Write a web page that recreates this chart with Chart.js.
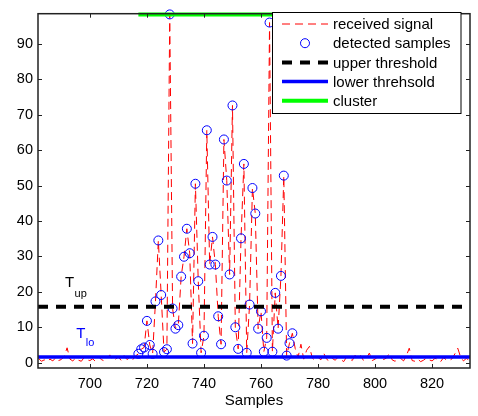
<!DOCTYPE html>
<html>
<head>
<meta charset="utf-8">
<script src="https://cdn.jsdelivr.net/npm/chart.js@4.4.0/dist/chart.umd.min.js"></script>
<style>
  html, body { margin: 0; padding: 0; background: #fff; }
</style>
</head>
<body>
<canvas id="chart" width="478" height="416"></canvas>
<script>
// samples 682..716 (noise before the burst)
const firstSample = 682;
const leftNoise = [1.2, 0.4, 0.8, 0.3, 1.0, 0.5, 1.4, 0.6, 0.9, 1.8,
                   4.2, 1.0, 0.5, 1.3, 0.7, 0.4, 1.5, 0.8, 0.6, 1.1,
                   0.3, 1.7, 0.9, 0.5, 1.2, 2.2, 0.7, 1.0, 1.6, 0.6,
                   2.0, 0.9, 1.4, 0.8, 1.9];
// samples 717..771, the detected ones
const clusterStart = 717;
const detected = [2.5, 3.8, 4.3, 11.8, 5.0, 2.5, 17.3, 34.5, 19.1, 3.0,
                  3.8, 98.3, 15.3, 9.6, 10.6, 24.3, 29.9, 37.8, 30.9, 5.4,
                  50.5, 23.0, 2.8, 7.6, 65.6, 27.7, 35.5, 27.7, 13.1, 5.2,
                  63.0, 51.4, 24.9, 72.6, 10.0, 3.9, 35.1, 56.1, 2.8, 16.4,
                  49.3, 42.1, 9.6, 14.5, 3.1, 7.0, 96.0, 3.1, 19.7, 9.6,
                  24.5, 52.8, 2.0, 5.5, 8.3];
// samples 772..833
const rightNoise = [4.0, 1.5, 5.2, 1.0, 3.5, 4.6, 1.3, 0.6, 1.5, 0.8,
                    2.7, 1.0, 0.4, 1.2, 0.7, 1.5, 0.9, 0.3, 1.6, 1.1,
                    0.6, 2.1, 1.2, 2.0, 0.5, 1.3, 2.7, 0.6, 1.0, 1.7,
                    1.6, 0.9, 1.3, 2.7, 0.8, 0.4, 0.9, 1.2, 0.5, 2.0,
                    4.1, 0.6, 0.4, 1.0, 0.3, 0.7, 1.3, 0.8, 0.5, 1.2,
                    1.0, 0.3, 1.4, 0.8, 0.6, 1.1, 2.5, 4.1, 1.6, 0.5,
                    1.2, 0.7];

const upperThreshold = 15.8;
const lowerThreshold = 1.6;
const clusterSpan = [717, 770];
const clusterLevel = 98.3;

const xRange = [681.8, 833.3];
const yRange = [-1.5, 98.5];
const xTicks = [700, 720, 740, 760, 780, 800, 820];
const yTicks = [0, 10, 20, 30, 40, 50, 60, 70, 80, 90];

const FONT = '"Liberation Sans", Arial, Helvetica, sans-serif';

function toPoints(start, values) {
    return values.map((v, i) => ({ x: start + i, y: v }));
}

const detectedPoints = toPoints(clusterStart, detected);
const signalPoints = [
    ...toPoints(firstSample, leftNoise),
    ...detectedPoints,
    ...toPoints(clusterStart + detected.length, rightNoise)
];

// box round the axes with ticks pointing inward, like matlab
const frame = {
    id: 'frame',
    afterDraw(chart) {
        const { ctx, chartArea: a, scales } = chart;
        ctx.save();
        ctx.strokeStyle = '#222';
        ctx.lineWidth = 1;
        ctx.beginPath();
        xTicks.forEach(v => {
            const px = Math.round(scales.x.getPixelForValue(v)) + 0.5;
            ctx.moveTo(px, a.bottom); ctx.lineTo(px, a.bottom - 4);
            ctx.moveTo(px, a.top); ctx.lineTo(px, a.top + 4);
        });
        yTicks.forEach(v => {
            const py = Math.round(scales.y.getPixelForValue(v)) + 0.5;
            ctx.moveTo(a.left, py); ctx.lineTo(a.left + 4, py);
            ctx.moveTo(a.right, py); ctx.lineTo(a.right - 4, py);
        });
        ctx.stroke();
        ctx.lineWidth = 1.5;
        ctx.strokeRect(a.left, a.top, a.right - a.left, a.bottom - a.top);

        // threshold labels
        ctx.textBaseline = 'alphabetic';
        const tx = scales.x.getPixelForValue(691.3);
        const ty = scales.y.getPixelForValue(21.4);
        ctx.fillStyle = '#000';
        ctx.font = '15px ' + FONT;
        ctx.fillText('T', tx, ty);
        ctx.font = '11px ' + FONT;
        ctx.fillText('up', tx + 9.5, ty + 10);

        const lx = scales.x.getPixelForValue(695.2);
        const ly = scales.y.getPixelForValue(7.1);
        ctx.fillStyle = '#0000ff';
        ctx.font = '15px ' + FONT;
        ctx.fillText('T', lx, ly);
        ctx.font = '11px ' + FONT;
        ctx.fillText('lo', lx + 9.5, ly + 8);
        ctx.restore();
    }
};

const legendBox = {
    id: 'legendBox',
    afterDraw(chart) {
        const ctx = chart.ctx;
        const x0 = 272.5, y0 = 12.5, w = 188.5, h = 101;
        ctx.save();
        ctx.fillStyle = '#fff';
        ctx.fillRect(x0, y0, w, h);
        ctx.strokeStyle = '#000';
        ctx.lineWidth = 1;
        ctx.strokeRect(x0, y0, w, h);
        ctx.font = '15px ' + FONT;
        ctx.textBaseline = 'middle';
        chart.data.datasets.forEach((ds, i) => {
            const y = 24 + i * 19.2;
            if (ds.showLine === false) {
                ctx.setLineDash([]);
                ctx.lineWidth = 1;
                ctx.strokeStyle = ds.pointBorderColor;
                ctx.beginPath();
                ctx.arc(305, y, ds.pointRadius, 0, Math.PI * 2);
                ctx.stroke();
            } else {
                ctx.setLineDash(ds.borderDash || []);
                ctx.lineWidth = ds.borderWidth;
                ctx.strokeStyle = ds.borderColor;
                ctx.beginPath();
                ctx.moveTo(282, y);
                ctx.lineTo(328, y);
                ctx.stroke();
            }
            ctx.setLineDash([]);
            ctx.fillStyle = '#000';
            ctx.fillText(ds.label, 333, y + 1);
        });
        ctx.restore();
    }
};

new Chart(document.getElementById('chart'), {
    type: 'line',
    data: {
        datasets: [
            {
                label: 'received signal',
                data: signalPoints,
                borderColor: '#ff0000',
                borderWidth: 1,
                borderDash: [8, 5],
                pointRadius: 0,
                tension: 0,
                order: 5
            },
            {
                label: 'detected samples',
                data: detectedPoints,
                showLine: false,
                pointRadius: 4.5,
                pointBorderWidth: 1,
                pointBorderColor: '#0000ff',
                pointBackgroundColor: 'rgba(0,0,0,0)',
                clip: false,
                order: 4
            },
            {
                label: 'upper threshold',
                data: [{ x: xRange[0], y: upperThreshold }, { x: xRange[1], y: upperThreshold }],
                borderColor: '#000000',
                borderWidth: 4,
                borderDash: [10, 8],
                pointRadius: 0,
                order: 3
            },
            {
                label: 'lower threhsold',
                data: [{ x: xRange[0], y: lowerThreshold }, { x: xRange[1], y: lowerThreshold }],
                borderColor: '#0000ff',
                borderWidth: 3.5,
                pointRadius: 0,
                order: 2
            },
            {
                label: 'cluster',
                data: [{ x: clusterSpan[0], y: clusterLevel }, { x: clusterSpan[1], y: clusterLevel }],
                borderColor: '#00ff00',
                borderWidth: 4,
                pointRadius: 0,
                clip: false,
                order: 1
            }
        ]
    },
    options: {
        responsive: false,
        animation: false,
        devicePixelRatio: 1,
        layout: { padding: { left: 0, right: 8, top: 5, bottom: 0 } },
        plugins: { legend: { display: false }, tooltip: { enabled: false } },
        scales: {
            x: {
                type: 'linear',
                min: xRange[0],
                max: xRange[1],
                afterBuildTicks: s => { s.ticks = xTicks.map(v => ({ value: v })); },
                afterFit: s => { s.height = 48; },
                grid: { drawOnChartArea: false, drawTicks: false },
                border: { display: false },
                ticks: { color: '#000', font: { family: FONT, size: 14.5 }, padding: 7, maxRotation: 0 },
                title: { display: true, text: 'Samples', color: '#000', font: { family: FONT, size: 15 }, padding: { top: 0, bottom: 6 } }
            },
            y: {
                type: 'linear',
                min: yRange[0],
                max: yRange[1],
                afterBuildTicks: s => { s.ticks = yTicks.map(v => ({ value: v })); },
                afterFit: s => { s.width = 38; },
                grid: { drawOnChartArea: false, drawTicks: false },
                border: { display: false },
                ticks: { color: '#000', font: { family: FONT, size: 14.5 }, padding: 5 }
            }
        }
    },
    plugins: [frame, legendBox]
});
</script>
</body>
</html>
